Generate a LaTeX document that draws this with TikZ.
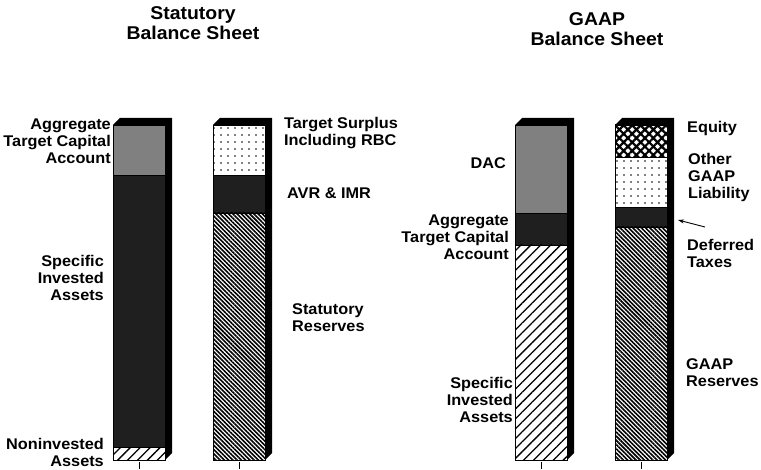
\documentclass[tikz,border=0pt]{standalone}
\usepackage{fontspec}
\setmainfont{Liberation Sans}[FakeStretch=1.05]
\usetikzlibrary{patterns.meta, arrows.meta}
\begin{document}
\begin{tikzpicture}[
        x=1pt, y=1pt,
        heading/.style={
            font=\fontsize{18.5}{20}\selectfont\bfseries,
            align=center,
            inner sep=0pt,
        },
        leftlbl/.style={
            font=\fontsize{15.5}{17}\selectfont\bfseries,
            align=right,
            anchor=east,
            inner sep=0pt,
        },
        rightlbl/.style={
            font=\fontsize{15.5}{17}\selectfont\bfseries,
            align=left,
            anchor=west,
            inner sep=0pt,
        },
        seg/.style={draw=black, line width=0.6pt},
        checker/.style={seg, fill=black!50},
        speckle/.style={seg, fill=black!88},
        sparsedots/.style={seg, fill=white, pattern={Dots[radius=0.9pt, distance=6.5pt]}},
        finehatch/.style={seg, preaction={fill=white}, pattern={Lines[angle=-45, distance=3pt, line width=1.6pt]}},
        widehatch/.style={seg, preaction={fill=white}, pattern={Lines[angle=45, distance=7pt, line width=1.3pt]}},
        diamondhatch/.style={seg, preaction={fill=white}, pattern={Hatch[angle=45, distance=6pt, line width=2.2pt]}},
        shadow/.style={fill=black},
    ]

    \useasboundingbox (0, 0) rectangle (761, 469);

    % depth and tick of each bar
    \foreach \x in {113, 213, 515, 615} {
        \fill[shadow] (\x, 344) -- ++(7, 7) -- ++(52, 0) -- (\x+59, 16) -- (\x+52, 9) -- (\x+52, 344) -- cycle;
        \draw[line width=0.8pt] (\x+26, 7) -- (\x+26, 0);
    }

    % statutory assets
    \draw[checker]    (113, 294) rectangle (165, 344);
    \draw[speckle]    (113, 22)  rectangle (165, 294);
    \draw[widehatch]  (113, 9)   rectangle (165, 22);

    % statutory liabilities
    \draw[sparsedots] (213, 294) rectangle (265, 344);
    \draw[speckle]    (213, 256) rectangle (265, 294);
    \draw[finehatch]  (213, 9)   rectangle (265, 256);

    % GAAP assets
    \draw[checker]    (515, 256) rectangle (567, 344);
    \draw[speckle]    (515, 224) rectangle (567, 256);
    \draw[widehatch]  (515, 9)   rectangle (567, 224);

    % GAAP liabilities
    \draw[diamondhatch] (615, 312) rectangle (667, 344);
    \draw[sparsedots]   (615, 262) rectangle (667, 312);
    \draw[speckle]      (615, 242) rectangle (667, 262);
    \draw[finehatch]    (615, 9)   rectangle (667, 242);

    \node[heading] (stat) at (193, 446) {Statutory\\Balance Sheet};
    \node[heading] (gaap) at (597, 440) {GAAP\\Balance Sheet};

    \node[leftlbl]  (s-atca) at (111, 328) {Aggregate\\Target Capital\\Account};
    \node[leftlbl]  (s-sia)  at (104, 191) {Specific\\Invested\\Assets};
    \node[leftlbl]  (s-nia)  at (104, 17)  {Noninvested\\Assets};
    \node[rightlbl] (s-ts)   at (284, 336) {Target Surplus\\Including RBC};
    \node[rightlbl] (s-avr)  at (287, 276) {AVR \& IMR};
    \node[rightlbl] (s-res)  at (292, 151) {Statutory\\Reserves};

    \node[leftlbl]  (g-dac)  at (506, 306) {DAC};
    \node[leftlbl]  (g-atca) at (509, 232) {Aggregate\\Target Capital\\Account};
    \node[leftlbl]  (g-sia)  at (513, 69)  {Specific\\Invested\\Assets};
    \node[rightlbl] (g-eq)   at (687, 341) {Equity};
    \node[rightlbl] (g-ogl)  at (688, 292) {Other\\GAAP\\Liability};
    \node[rightlbl] (g-dt)   at (687, 216) {Deferred\\Taxes};
    \node[rightlbl] (g-res)  at (686, 96)  {GAAP\\Reserves};

    \coordinate (dt-tail) at (705, 242);
    \coordinate (dt-head) at (678, 249);
    \draw[line width=0.9pt, -{Stealth[length=6pt, width=4pt]}] (dt-tail) -- (dt-head);

\end{tikzpicture}
\end{document}
